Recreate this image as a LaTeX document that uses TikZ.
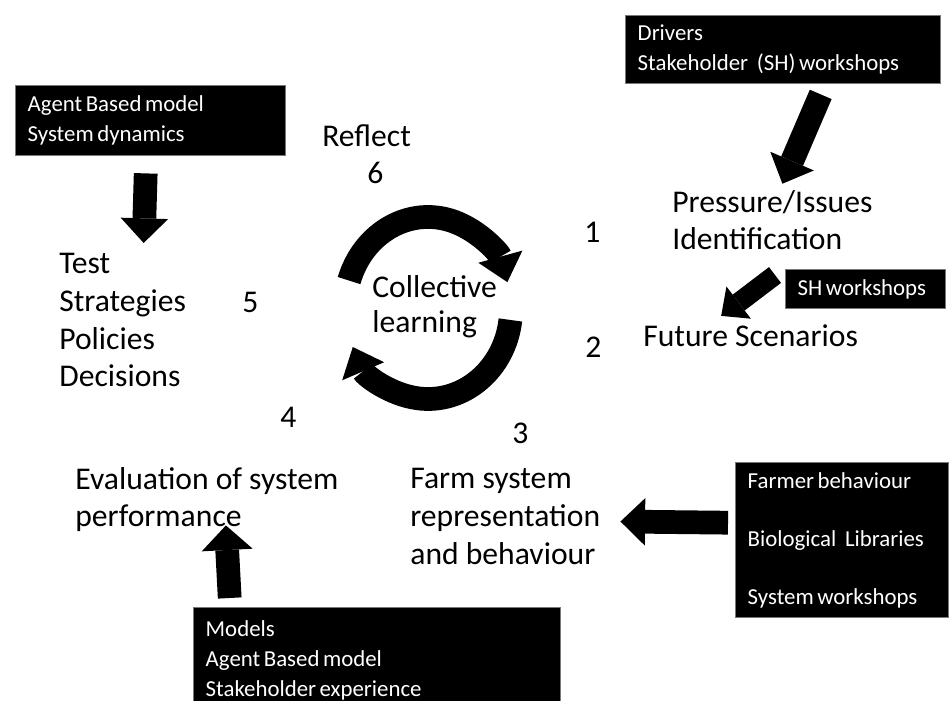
\documentclass[tikz,border=0pt]{standalone}
\usepackage{fontspec}
\setmainfont{Carlito}
\newcommand\tightspace{\spaceskip 2pt\relax}
\usepackage{tikz}
\usetikzlibrary{arrows.meta}
\definecolor{boxedge}{RGB}{120,120,120}

\tikzset{
  blackbox/.style={fill=black, draw=boxedge, line width=0.8pt, text=white,
    font=\fontsize{13}{17}\selectfont, execute at begin node=\tightspace,
    align=left, anchor=north west, inner xsep=0.24cm, inner ysep=0pt},
  stage/.style={font=\fontsize{18}{21.6}\selectfont, align=left, anchor=base west, inner sep=0pt},
  stepno/.style={font=\fontsize{18}{21.6}\selectfont, anchor=base west, inner sep=0pt},
  fatarrow/.style={line width=13.5pt, -{Triangle[length=14pt, width=27pt, line width=0pt]}},
  cycarrow/.style={line width=13.5pt, -{Triangle[length=15pt, width=26pt, line width=0pt]}}
}

\begin{document}
\begin{tikzpicture}
\useasboundingbox (0,0) rectangle (19,14);

% input boxes
\node[blackbox, text width=5.82cm, minimum height=1.36cm] (drv) at (12.5,13.7)
     {Drivers\\Stakeholder\hspace{5pt}(SH) workshops};
\node[blackbox, text width=4.92cm, minimum height=1.4cm] (abm) at (0.3,12.3)
     {Agent Based model\\System dynamics};
\node[blackbox, text width=2.72cm, minimum height=0.78cm] (shw) at (15.7,8.62)
     {SH workshops};
\node[blackbox, text width=3.78cm, minimum height=3.1cm, font=\fontsize{13}{33}\selectfont] (frm) at (14.7,4.76)
     {Farmer behaviour\\Biological\hspace{5pt}Libraries\\System workshops};
\node[blackbox, text width=6.86cm, minimum height=2.1cm] (mdl) at (3.86,1.86)
     {Models\\Agent Based model\\Stakeholder experience};

% stages of the cycle (base = last line)
\node[stage] (prs) at (13.44,9.0) {Pressure/Issues\\Identification};
\node[stage] (fut) at (12.86,7.06) {Future Scenarios};
\node[stage] (fsr) at (8.2,2.72) {Farm system\\representation\\and behaviour};
\node[stage] (evl) at (1.5,3.46) {Evaluation of system\\performance};
\node[stage] (tst) at (1.18,6.26) {Test\\Strategies\\Policies\\Decisions};
\node[stage] (rfl) at (6.44,11.06) {Reflect};

\node[stepno] (n1) at (11.68,9.14) {1};
\node[stepno] (n2) at (11.7,6.84) {2};
\node[stepno] (n3) at (10.24,5.12) {3};
\node[stepno] (n4) at (5.6,5.44) {4};
\node[stepno] (n5) at (4.84,7.74) {5};
\node[stepno] (n6) at (7.34,10.32) {6};

% collective learning loop
\coordinate (cyc) at (8.56,7.82);
\node[stage, font=\fontsize{18}{20}\selectfont] (col) at (7.44,7.34) {Collective\\learning};
\draw[cycarrow] ([shift={(162:1.66 and 1.84)}]cyc)
      arc[start angle=162, end angle=17, x radius=1.66, y radius=1.84];
\draw[cycarrow] ([shift={(-7:1.66 and 1.8)}]cyc)
      arc[start angle=-7, end angle=-155, x radius=1.66, y radius=1.8];

% inputs
\draw[fatarrow] ([shift={(-0.1,-0.34)}]abm.south) -- ([shift={(0.42,0.19)}]tst.north);
\draw[fatarrow] ([shift={(0.75,-0.2)}]drv.south) -- ([shift={(0.2,0.12)}]prs.north);
\draw[fatarrow, line width=11.3pt, -{Triangle[length=12.5pt, width=23pt, line width=0pt]}]
      ([shift={(-0.2,-0.12)}]shw.north west) -- ([shift={(-0.59,0.18)}]fut.north);
\draw[fatarrow] ([shift={(-0.14,0.35)}]frm.west) -- ([shift={(0.4,-0.11)}]fsr.east);
\draw[fatarrow, -{Triangle[length=14pt, width=29pt, line width=0pt]}]
      ([shift={(-2.95,0.18)}]mdl.north) -- ([shift={(0.38,0.14)}]evl.south);
\end{tikzpicture}
\end{document}
